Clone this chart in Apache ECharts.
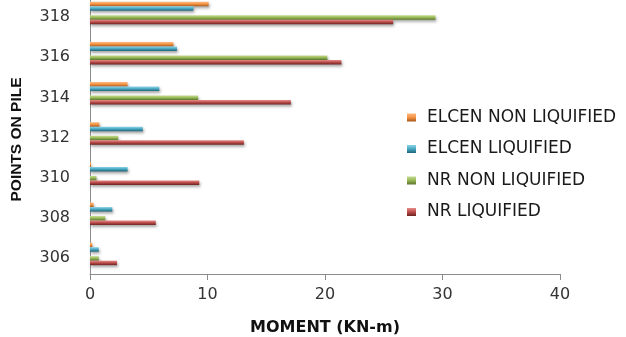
<!DOCTYPE html>
<html>
<head>
<meta charset="utf-8">
<script src="https://cdn.jsdelivr.net/npm/echarts@6/dist/echarts.min.js"></script>
<style>
  html, body { margin: 0; padding: 0; background: #ffffff; overflow: hidden; }
  /* the plot's top band runs a few pixels above the page edge */
  #chart { position: absolute; left: 0; top: -7px; width: 626px; height: 344px; }
</style>
</head>
<body>
<div id="chart"></div>
<script>
// Points along the pile (bottom to top)
const points = ['306', '308', '310', '312', '314', '316', '318'];

// Bending moment (KN-m) at each point
const elcenNonLiquified = [0.2, 0.3, 0.1, 0.8, 3.2, 7.1, 10.1];
const elcenLiquified    = [0.75, 1.9, 3.2, 4.5, 5.9, 7.4, 8.8];
const nrNonLiquified    = [0.75, 1.3, 0.55, 2.4, 9.2, 20.2, 29.4];
const nrLiquified       = [2.3, 5.6, 9.3, 13.1, 17.1, 21.4, 25.8];
// Blank column in the sheet: leaves an empty slot in each group
const blankColumn       = [null, null, null, null, null, null, null];

const xTicks = [0, 10, 20, 30, 40];

function shaded(light, mid, dark) {
  return new echarts.graphic.LinearGradient(0, 0, 0, 1, [
    { offset: 0, color: light },
    { offset: 0.45, color: mid },
    { offset: 1, color: dark }
  ]);
}

const palette = {
  orange: shaded('#fbb97f', '#f79646', '#a8591a'),
  blue:   shaded('#8fd4e6', '#4bacc6', '#1f6478'),
  green:  shaded('#c4db92', '#9bbb59', '#5a7429'),
  red:    shaded('#e58d8a', '#c0504d', '#6e2321')
};

function barSeries(name, data, color) {
  return {
    name: name,
    type: 'bar',
    data: data,
    barGap: '0%',
    barCategoryGap: '44%',
    itemStyle: {
      color: color,
      shadowColor: 'rgba(0,0,0,0.35)',
      shadowBlur: 3,
      shadowOffsetX: 1,
      shadowOffsetY: 2
    }
  };
}

const chart = echarts.init(document.getElementById('chart'), null, { renderer: 'canvas' });

chart.setOption({
  animation: false,
  backgroundColor: '#ffffff',
  grid: {
    left: 90, right: 66, top: 0, bottom: 63,
    containLabel: false,
    outerBoundsMode: 'none'
  },
  legend: {
    orient: 'vertical',
    left: 407,
    top: 116,
    padding: 0,
    itemGap: 14.5,
    itemWidth: 9,
    itemHeight: 8,
    icon: 'rect',
    data: ['ELCEN NON LIQUIFIED', 'ELCEN LIQUIFIED', 'NR NON LIQUIFIED', 'NR LIQUIFIED'],
    textStyle: {
      fontFamily: 'DejaVu Sans', fontSize: 17, lineHeight: 17,
      color: '#1a1a1a', padding: [0, 0, 0, 6]
    }
  },
  xAxis: {
    type: 'value',
    min: xTicks[0],
    max: xTicks[xTicks.length - 1],
    interval: 10,
    name: 'MOMENT (KN-m)',
    nameLocation: 'middle',
    nameGap: 46,
    nameTextStyle: { fontFamily: 'DejaVu Sans', fontWeight: 'bold', fontSize: 16, color: '#111' },
    axisLine: { show: true, lineStyle: { color: '#8c8c8c', width: 1 } },
    axisTick: { show: true, length: 6, lineStyle: { color: '#8c8c8c' } },
    axisLabel: { fontFamily: 'DejaVu Sans', fontSize: 16, color: '#333', margin: 13 },
    splitLine: { show: false }
  },
  yAxis: {
    type: 'category',
    data: points,
    axisLine: { show: true, lineStyle: { color: '#8c8c8c', width: 1 } },
    axisTick: { show: false },
    axisLabel: {
      margin: 20,
      // a thin empty line above each label sets it slightly below the band centre
      formatter: function (v) { return '{gap| }\n{v|' + v + '}'; },
      rich: {
        gap: { fontSize: 4, lineHeight: 8 },
        v: { fontFamily: 'DejaVu Sans', fontSize: 16, lineHeight: 16, color: '#333' }
      }
    },
    splitLine: { show: false }
  },
  graphic: [{
    type: 'text',
    x: 17,
    y: 146.5,
    rotation: Math.PI / 2,
    style: {
      text: 'POINTS ON PILE',
      fontFamily: 'Liberation Sans',
      fontWeight: 'bold',
      fontSize: 15.5,
      fill: '#111',
      align: 'center',
      verticalAlign: 'middle'
    }
  }],
  series: [
    barSeries('ELCEN NON LIQUIFIED', elcenNonLiquified, palette.orange),
    barSeries('ELCEN LIQUIFIED', elcenLiquified, palette.blue),
    barSeries('blank', blankColumn, '#8064a2'),
    barSeries('NR NON LIQUIFIED', nrNonLiquified, palette.green),
    barSeries('NR LIQUIFIED', nrLiquified, palette.red)
  ]
});
</script>
</body>
</html>
